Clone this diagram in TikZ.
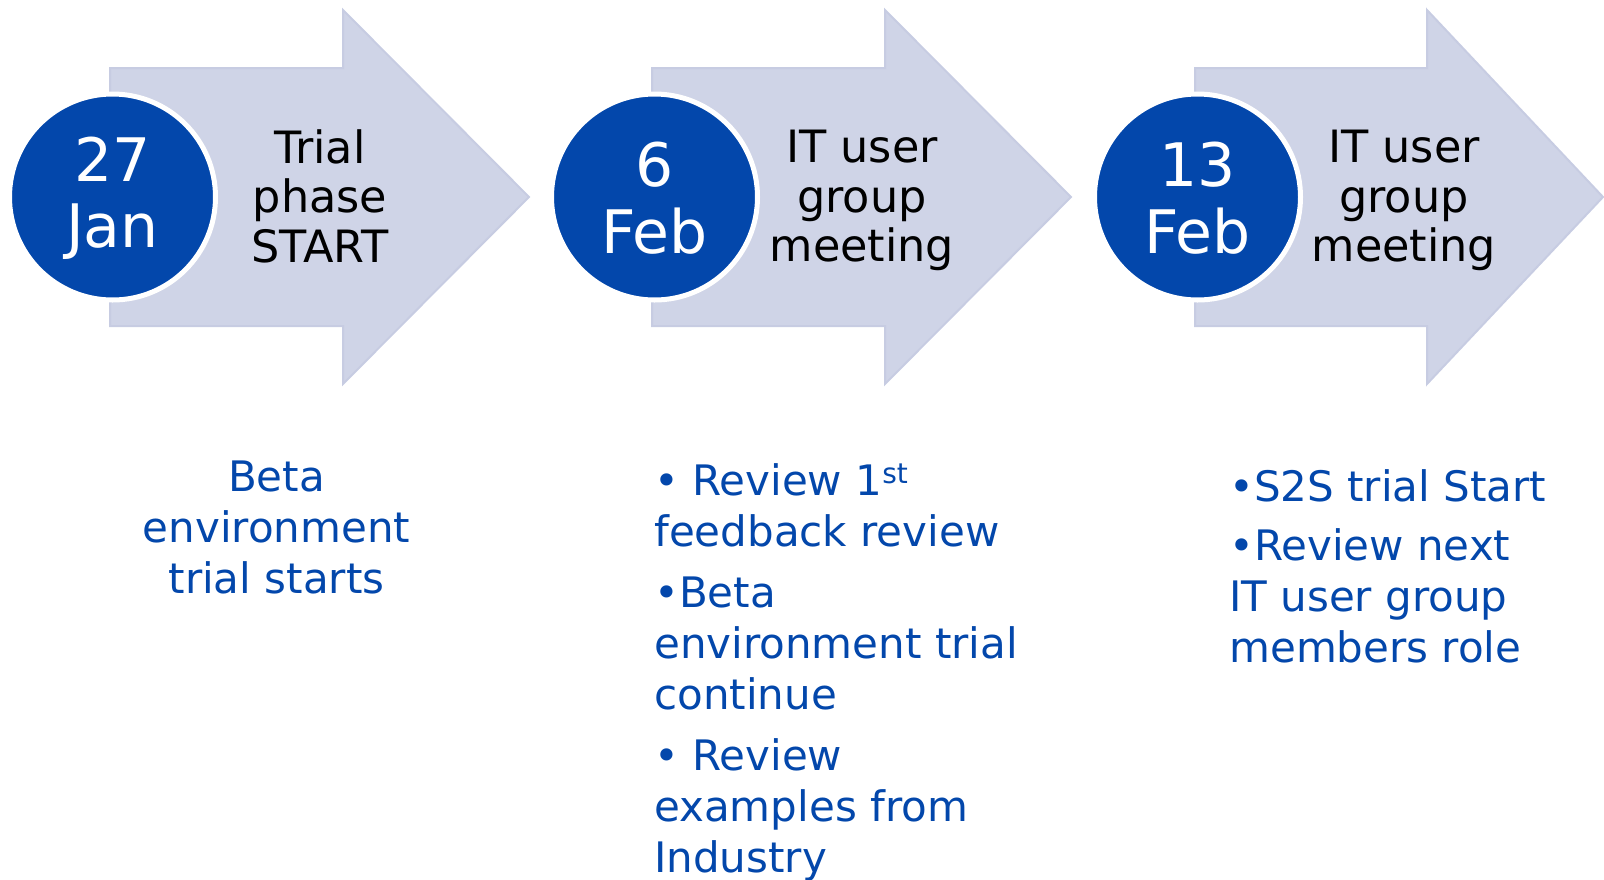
\documentclass[tikz,border=0pt]{standalone}
\usepackage{fontspec}
\setmainfont{DejaVu Sans}
\definecolor{arrowfill}{RGB}{207,212,231}
\definecolor{arrowline}{RGB}{199,204,226}
\definecolor{dateblue}{RGB}{3,71,171}
\newcommand{\daystrut}{\rule{0pt}{35pt}}

\begin{document}
\begin{tikzpicture}[line cap=round,line join=round,x=0.75pt,y=-0.75pt,
	daycircle/.style={circle,fill=dateblue,draw=white,line width=3.75pt,minimum size=154.5pt,inner sep=0pt,text=white,align=center,font=\fontsize{45}{50}\selectfont},
	steptext/.style={anchor=north,inner sep=0pt,align=center,font=\fontsize{33.4}{37.1}\selectfont},
	notetext/.style={inner sep=0pt,text=dateblue,font=\fontsize{31.5}{38.25}\selectfont}]
	\useasboundingbox (0,0) rectangle (1604,879);
	% arrows
	\draw [fill=arrowfill,draw=arrowline,line width=1.5pt,line join=miter] (110,68) -- (343,68) -- (343,10) -- (529,197) -- (343,384) -- (343,326) -- (110,326) -- cycle;
	\draw [fill=arrowfill,draw=arrowline,line width=1.5pt,line join=miter] (652,68) -- (885,68) -- (885,10) -- (1071,197) -- (885,384) -- (885,326) -- (652,326) -- cycle;
	\draw [fill=arrowfill,draw=arrowline,line width=1.5pt,line join=miter] (1195,68) -- (1427,68) -- (1427,10) -- (1603,197) -- (1427,384) -- (1427,326) -- (1195,326) -- cycle;
	% dates
	\node [daycircle] (day1) at (112.5,197) {\daystrut 27\\Jan};
	\node [daycircle] (day2) at (654.5,197) {\daystrut 6\\Feb};
	\node [daycircle] (day3) at (1197.5,197) {\daystrut 13\\Feb};
	% arrow texts
	\node [steptext] (step1) at (320,129) {Trial\\phase\\START};
	\node [steptext] (step2) at (862,130) {IT user\\group\\meeting};
	\node [steptext] (step3) at (1404,130) {IT user\\group\\meeting};
	% notes
	\node [notetext,anchor=north,align=center] (note1) at (276.5,461) {Beta\\environment\\trial starts};
	\node [notetext,anchor=north west,align=left] (note2) at (654,463) {• Review 1\raisebox{9pt}{\fontsize{21}{21}\selectfont st}\\feedback review\\[7.5pt]•Beta\\environment trial\\continue\\[7.5pt]• Review\\examples from\\Industry};
	\node [notetext,anchor=north west,align=left] (note3) at (1229,469) {•S2S trial Start\\[6pt]•Review next\\IT user group\\members role};
\end{tikzpicture}
\end{document}
